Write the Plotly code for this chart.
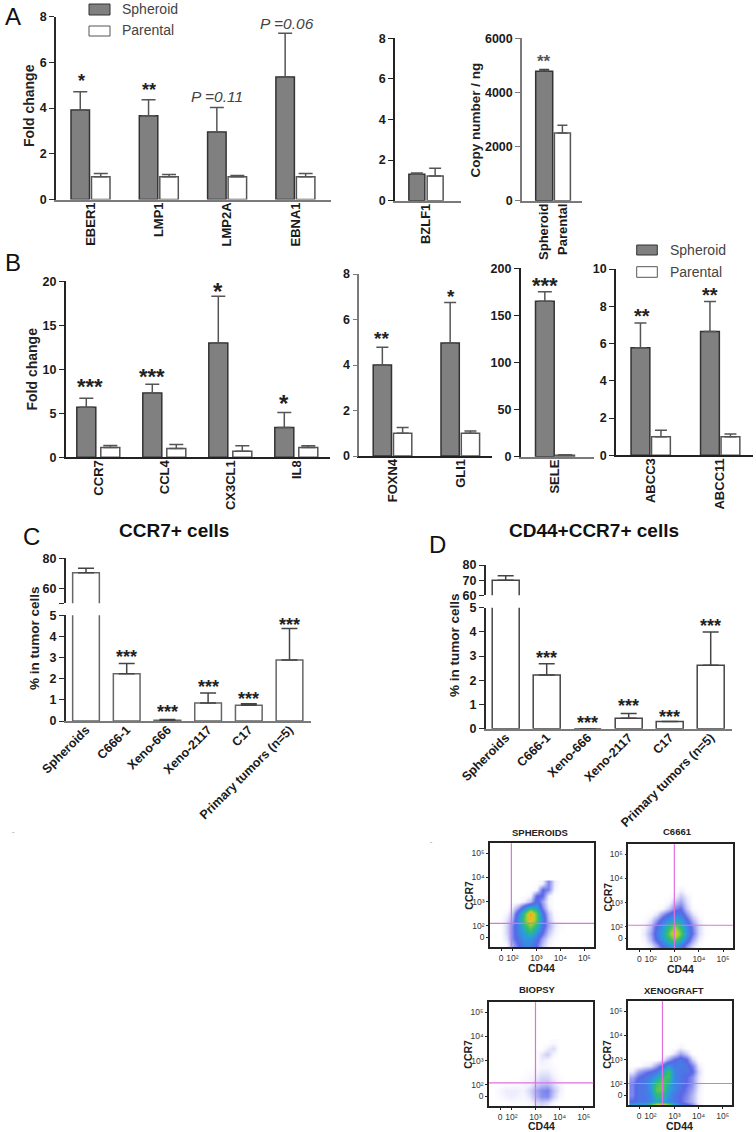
import plotly.graph_objects as go

W, H = 756, 1132
FONT = "Liberation Sans"

# ---------- data ----------
A1_cats = ["EBER1", "LMP1", "LMP2A", "EBNA1"]
A1_sph = [3.92, 3.67, 2.95, 5.36]
A1_sph_err = [0.80, 0.69, 1.08, 1.92]
A1_par = [1.0, 1.0, 1.0, 1.0]
A1_par_err = [0.14, 0.09, 0.05, 0.14]

A2_cats = ["BZLF1"]
A2_sph = [1.3]
A2_sph_err = [0.07]
A2_par = [1.22]
A2_par_err = [0.38]

A3_cats = ["Spheroid", "Parental"]
A3_val = [4780, 2500]
A3_err = [70, 290]

B1_cats = ["CCR7", "CCL4", "CX3CL1", "IL8"]
B1_sph = [5.7, 7.3, 13.0, 3.4]
B1_sph_err = [1.0, 1.0, 5.3, 1.7]
B1_par = [1.1, 1.0, 0.7, 1.1]
B1_par_err = [0.25, 0.45, 0.6, 0.2]

B2_cats = ["FOXN4", "GLI1"]
B2_sph = [4.0, 4.97]
B2_sph_err = [0.78, 1.78]
B2_par = [1.0, 1.0]
B2_par_err = [0.25, 0.1]

B3_cats = ["SELE"]
B3_sph = [165]
B3_sph_err = [10]
B3_par = [1.5]
B3_par_err = [0.5]

B4_cats = ["ABCC3", "ABCC11"]
B4_sph = [5.77, 6.65]
B4_sph_err = [1.33, 1.6]
B4_par = [1.0, 1.0]
B4_par_err = [0.35, 0.15]

CD_cats = ["Spheroids", "C666-1", "Xeno-666", "Xeno-2117", "C17", "Primary tumors (n=5)"]
C_val = [70.3, 2.23, 0.03, 0.85, 0.75, 2.88]
C_err = [3.0, 0.49, 0.04, 0.47, 0.07, 1.5]
D_val = [70.0, 2.22, 0.0, 0.43, 0.3, 2.62]
D_err = [2.9, 0.46, 0.0, 0.2, 0.0, 1.38]

FLOW_X = [1.25, 1.5, 1.75, 2.0, 2.25, 2.5, 2.75, 3.0, 3.25, 3.5, 3.75, 4.0, 4.25, 4.5]
FLOW_Y = [3.75, 3.5, 3.25, 3.0, 2.75, 2.5, 2.25, 2.0, 1.75, 1.5, 1.25, 1.12]
FLOW_Y_TICKS = [1.53, 2, 3, 4, 5]
FLOW_X_TICKS = [1.53, 2, 3, 4, 5]
FLOW_TICK_TEXT = ["0", "10²", "10³", "10⁴", "10⁵"]

spheroids_density = [
    [0, 0, 0, 0, 0, 0, 0, 0, 0.3, 2, 0.4, 0, 0, 0],
    [0, 0, 0, 0, 0, 0, 0, 0.2, 2.5, 2, 0.2, 0, 0, 0],
    [0, 0, 0, 0, 0, 0, 0.2, 2.5, 2.5, 0.4, 0, 0, 0, 0],
    [0, 0, 0, 0, 0, 0.4, 1.2, 3, 1.5, 0.2, 0, 0, 0, 0],
    [0, 0, 0, 0.4, 1.5, 3.5, 5, 4.5, 2, 0.4, 0, 0, 0, 0],
    [0, 0, 0.2, 1, 3.5, 6, 9.5, 6.5, 3, 1, 0.1, 0, 0, 0],
    [0, 0, 0.5, 1.5, 4, 6.5, 9, 6.5, 3.5, 1.2, 0.2, 0, 0, 0],
    [0, 0, 0.7, 2, 3.5, 5.5, 7, 5.5, 3, 1.5, 0.5, 0.1, 0, 0],
    [0, 0, 0.7, 2, 3.5, 4.5, 5.5, 4, 2.5, 1, 0.3, 0, 0, 0],
    [0, 0, 0.5, 2, 3, 4, 4, 3, 1.5, 0.5, 0.1, 0, 0, 0],
    [0, 0, 0.2, 1.5, 2.5, 3.5, 3.5, 2.5, 1, 0.3, 0, 0, 0, 0],
    [0, 0, 0.2, 1.5, 2.5, 3.5, 3.5, 2.5, 1, 0.3, 0, 0, 0, 0],
]
c6661_density = [
    [0, 0, 0, 0, 0, 0, 0, 0, 0, 0, 0, 0, 0, 0],
    [0, 0, 0, 0, 0, 0, 0, 0, 0.4, 0, 0, 0, 0, 0],
    [0, 0, 0, 0, 0, 0, 0, 0.3, 1, 0.4, 0, 0, 0, 0],
    [0, 0, 0, 0, 0, 0, 0.2, 1.1, 1.6, 0.6, 0, 0, 0, 0],
    [0, 0, 0, 0, 0, 0.2, 0.9, 2, 2.4, 0.9, 0.1, 0, 0, 0],
    [0, 0, 0, 0.1, 0.6, 1.8, 2.8, 3.5, 3.2, 1.8, 0.6, 0.1, 0, 0],
    [0, 0, 0.1, 0.6, 1.8, 3.2, 4, 5, 4.2, 2.8, 1.3, 0.4, 0, 0],
    [0, 0, 0.3, 1.1, 2.8, 4, 5.5, 7, 5.5, 3.6, 2, 0.7, 0.1, 0],
    [0, 0, 0.5, 1.5, 3.2, 4.5, 6.5, 9, 6.5, 4, 2.2, 0.7, 0.1, 0],
    [0, 0, 0.3, 1.2, 2.8, 4, 5.5, 6.5, 5, 3.2, 1.5, 0.4, 0, 0],
    [0, 0, 0.1, 0.5, 1.5, 2.8, 3.8, 4.2, 3.2, 1.8, 0.7, 0.1, 0, 0],
    [0, 0, 0.1, 0.5, 1.5, 2.8, 3.8, 4.2, 3.2, 1.8, 0.7, 0.1, 0, 0],
]
biopsy_density = [
    [0, 0, 0, 0, 0, 0, 0, 0, 0, 0, 0.15, 0, 0, 0],
    [0, 0, 0, 0, 0, 0, 0, 0, 0, 0.4, 0.7, 0, 0, 0],
    [0, 0, 0, 0, 0, 0, 0, 0, 0.5, 0.9, 0.2, 0, 0, 0],
    [0, 0, 0, 0, 0, 0, 0, 0, 0.4, 0.2, 0, 0, 0, 0],
    [0, 0, 0, 0, 0, 0, 0, 0.1, 0.2, 0.2, 0.1, 0, 0, 0],
    [0, 0, 0, 0, 0, 0, 0.1, 0.2, 0.5, 0.5, 0.2, 0, 0, 0],
    [0, 0, 0, 0, 0, 0.1, 0.2, 0.4, 0.8, 0.8, 0.4, 0.1, 0, 0],
    [0, 0, 0.1, 0.1, 0.1, 0.2, 0.3, 0.8, 1.1, 1.2, 0.7, 0.3, 0, 0],
    [0, 0.2, 0.4, 0.4, 0.4, 0.3, 0.7, 1.4, 1.9, 2.1, 1.1, 0.4, 0, 0],
    [0, 0.1, 0.3, 0.4, 0.3, 0.2, 0.5, 1.2, 1.8, 1.9, 0.9, 0.2, 0, 0],
    [0, 0, 0, 0.1, 0.1, 0.1, 0.2, 0.6, 0.9, 0.7, 0.2, 0, 0, 0],
    [0, 0, 0, 0, 0, 0, 0.1, 0.4, 0.6, 0.4, 0.1, 0, 0, 0],
]
xenograft_density = [
    [0, 0, 0, 0, 0, 0, 0, 0, 0, 0, 0, 0, 0, 0],
    [0, 0, 0, 0, 0, 0, 0, 0, 0.3, 0, 0, 0, 0, 0],
    [0, 0, 0, 0, 0, 0, 0, 0.6, 1.5, 0.8, 0, 0, 0, 0],
    [0, 0, 0, 0, 0, 0.3, 1.5, 2.5, 3, 2.5, 0.8, 0, 0, 0],
    [0, 0, 0.3, 0.5, 1.5, 2.5, 4, 3, 3.2, 3, 2, 0.4, 0, 0],
    [0.4, 1.5, 2, 2.5, 3, 4.5, 6, 3.5, 3, 3, 2.5, 0.7, 0, 0],
    [1.5, 2.5, 3, 3.5, 4.5, 6, 6, 3.5, 3, 2.5, 1.8, 0.5, 0, 0],
    [2, 3, 3, 4, 6, 6.5, 5, 3.5, 3, 2.5, 1.8, 0.5, 0, 0],
    [2, 3, 3, 4, 6.5, 6.5, 4.5, 3.5, 2.8, 2.2, 1.5, 0.4, 0, 0],
    [2, 3, 3, 3.5, 5.5, 5.5, 4, 3, 2.5, 2, 1.2, 0.3, 0, 0],
    [2.5, 3, 3, 3.5, 4.5, 4.5, 3.5, 3, 2.5, 1.8, 1.2, 0.3, 0, 0],
    [5, 5, 5, 6.5, 9.5, 10, 8, 5, 3.5, 3, 2, 0.5, 0, 0],
]

# ---------- style ----------
GREY = "#808080"
DARK = "#2a2a2a"
MID = "#7a7a7a"
DENSITY_SCALE = [[0, "#ffffff"], [0.03, "#f4f3fe"], [0.1, "#c4c6f6"], [0.25, "#5a66e8"],
                 [0.42, "#2a9ce0"], [0.58, "#2fc070"], [0.74, "#a8d030"], [0.88, "#f0c020"], [1, "#f07020"]]

fig = go.Figure()
layout = {}
annotations = []
shapes = []
ax_n = [0]


def xdom(l, r):
    return [l / W, r / W]


def ydom(t, b):
    return [1 - b / H, 1 - t / H]


def text(px, py, s, size, color="#222222", bold=False, angle=0, italic=False, anchor="center", pad=1):
    if bold:
        s = f"<b>{s}</b>"
    if italic:
        s = f"<i>{s}</i>"
    annotations.append(dict(x=px / W, y=1 - py / H, xref="paper", yref="paper", text=s, showarrow=False,
                            textangle=angle, xanchor=anchor, yanchor="middle", borderpad=pad,
                            font=dict(family=FONT, size=size, color=color)))


def bar_axes(cats, l, r, t, b, ymin, ymax, first, step, tickvals, ticktext=None, ycolor=DARK, xcolor=MID,
             show_x=True, tickangle=-90, catsize=13, standoff=-4):
    ax_n[0] += 1
    n = "" if ax_n[0] == 1 else str(ax_n[0])
    layout["xaxis" + n] = dict(
        domain=xdom(l, r), anchor="y" + n, type="category", categoryorder="array", categoryarray=cats,
        range=[(l - first) / step, (r - first) / step], showline=show_x, linecolor=xcolor, linewidth=1.5,
        ticks="", showticklabels=show_x, tickangle=tickangle, showgrid=False, zeroline=False, automargin=False,
        ticklabelstandoff=standoff,
        tickfont=dict(family=FONT, size=catsize, color="#1a1a1a", weight="bold"))
    layout["yaxis" + n] = dict(
        domain=ydom(t, b), anchor="x" + n, range=[ymin, ymax], tickmode="array", tickvals=tickvals,
        ticktext=ticktext if ticktext else [str(v) for v in tickvals], showline=True, linecolor=ycolor,
        linewidth=1.5, ticks="outside", ticklen=5, tickwidth=1, tickcolor=ycolor, showgrid=False, zeroline=False,
        automargin=False, tickfont=dict(family=FONT, size=12.5, color="#1a1a1a", weight="bold"))
    return "x" + n, "y" + n


def add_bars(xa, ya, cats, vals, errs, fill, line, errc, width, centre, capw, name):
    fig.add_trace(go.Bar(
        x=cats, y=vals, xaxis=xa, yaxis=ya, name=name, width=width, offset=centre - width / 2,
        marker=dict(color=fill, line=dict(color=line, width=1.5)), showlegend=False,
        error_y=dict(type="data", symmetric=False, array=errs, arrayminus=[0] * len(errs), color=errc,
                     thickness=1.5, width=capw)))


def grouped(cats, sph, sph_e, par, par_e, l, r, t, b, ymax, first, step, barw, sep, ticks, stars=(),
            ycolor=DARK, xcolor=MID, capw=6):
    xa, ya = bar_axes(cats, l, r, t, b, 0, ymax, first, step, ticks, ycolor=ycolor, xcolor=xcolor)
    w = barw / step
    c = sep / 2 / step
    add_bars(xa, ya, cats, sph, sph_e, GREY, "#333333", "#555555", w, -c, capw, "Spheroid")
    add_bars(xa, ya, cats, par, par_e, "white", "#555555", "#555555", w, c, capw, "Parental")
    for (i, yv, s, size, dx) in stars:
        annotations.append(dict(x=i - c, y=yv, xref=xa, yref=ya, text=f"<b>{s}</b>", showarrow=False, xshift=dx,
                                yshift=-0.2 * size, yanchor="middle",
                                font=dict(family=FONT, size=size, color="#222222")))
    return xa, ya


# ---------- panel A ----------
grouped(A1_cats, A1_sph, A1_sph_err, A1_par, A1_par_err, 56, 331, 16.7, 199.5, 8, 90.5, 68.3, 18.5, 20.5,
        [0, 2, 4, 6, 8], stars=[(0, 5.33, "*", 18, 1.5), (1, 4.94, "**", 18, 0)], capw=7)
annotations.append(dict(x=2 - 0.15, y=4.5, xref="x", yref="y", text="<i>P =0.11</i>", showarrow=False,
                        font=dict(family=FONT, size=15.5, color="#444444")))
annotations.append(dict(x=3 - 0.13, y=7.71, xref="x", yref="y", text="<i>P =0.06</i>", showarrow=False,
                        font=dict(family=FONT, size=15.5, color="#444444")))
grouped(A2_cats, A2_sph, A2_sph_err, A2_par, A2_par_err, 395, 460.7, 38.3, 200.7, 8, 426, 65.7, 16, 18.3,
        [0, 2, 4, 6, 8], ycolor="#222222", capw=6)
xa, ya = bar_axes(A3_cats, 522, 581.7, 38.3, 200.7, 0, 6000, 544.2, 18.2, [0, 2000, 4000, 6000], ycolor=MID)
add_bars(xa, ya, [A3_cats[0]], [A3_val[0]], [A3_err[0]], GREY, "#333333", "#444444", 17 / 18.2, 0, 5, "Spheroid")
add_bars(xa, ya, [A3_cats[1]], [A3_val[1]], [A3_err[1]], "white", "#555555", "#555555", 16 / 18.2, 0, 5, "Parental")
annotations.append(dict(x=0, y=5280, xref=xa, yref=ya, text="<b>**</b>", showarrow=False, yshift=-3.5,
                        font=dict(family=FONT, size=17, color="#555555")))

# ---------- panel B ----------
grouped(B1_cats, B1_sph, B1_sph_err, B1_par, B1_par_err, 65.7, 330, 281.3, 457.3, 20, 98.3, 66, 19, 24,
        [0, 5, 10, 15, 20], ycolor="#222222", xcolor="#222222", capw=7,
        stars=[(0, 8.56, "***", 22, 3.5), (1, 9.73, "***", 22, 0), (2, 19.4, "*", 24, 0), (3, 6.66, "*", 24, 0)])
grouped(B2_cats, B2_sph, B2_sph_err, B2_par, B2_par_err, 359.3, 491.7, 274, 456, 8, 392.5, 67.8, 18.3, 20.3,
        [0, 2, 4, 6, 8], ycolor=MID, xcolor="#222222",
        stars=[(0, 5.35, "**", 19, -0.5), (1, 7.18, "*", 19, 1)])
grouped(B3_cats, B3_sph, B3_sph_err, B3_par, B3_par_err, 520.7, 594, 268.3, 456.7, 200, 555, 73.3, 18.7, 20.3,
        [0, 50, 100, 150, 200], ycolor="#222222", capw=7, stars=[(0, 186, "***", 22, 0)])
grouped(B4_cats, B4_sph, B4_sph_err, B4_par, B4_par_err, 616, 752.7, 269, 455.3, 10, 650.7, 69.5, 18.8, 20.5,
        [0, 2, 4, 6, 8, 10], ycolor="#222222", xcolor="#222222",
        stars=[(0, 7.69, "**", 20, 1.5), (1, 8.82, "**", 20, 0)])


# ---------- panels C and D (broken axis) ----------
def broken(vals, errs, l, r, t_up, b_up, up_min, up_ticks, t_lo, b_lo, first, step, barw, stars, bar_line):
    w = barw / step
    xa, ya = bar_axes(CD_cats, l, r, t_up, b_up, up_min, 80, first, step, up_ticks[0], ticktext=up_ticks[1],
                      show_x=False)
    add_bars(xa, ya, CD_cats, vals, errs, "white", bar_line, "#444444", w, 0, 8, "Upper")
    xb, yb = bar_axes(CD_cats, l, r, t_lo, b_lo, 0, 5, first, step, [0, 1, 2, 3, 4, 5], tickangle=-45, catsize=12.5,
                      standoff=-5)
    add_bars(xb, yb, CD_cats, vals, errs, "white", bar_line, "#444444", w, 0, 8, "Lower")
    for i, yv in stars:
        annotations.append(dict(x=i, y=yv, xref=xb, yref=yb, text="<b>***</b>", showarrow=False, yshift=-3.6,
                                font=dict(family=FONT, size=18, color="#222222")))


broken(C_val, C_err, 65.7, 310.7, 558.3, 603.3, 50, ([50, 60, 80], ["", "60", "80"]), 615.3, 721, 86, 40.7, 26.7,
       [(1, 3.18), (2, 0.6), (3, 1.79), (4, 1.23), (5, 4.73)], "#666666")
broken(D_val, D_err, 485.7, 731.7, 565, 595.3, 60, ([60, 70, 80], ["60", "70", "80"]), 607.7, 728.7, 505.7, 41, 27,
       [(1, 3.07), (2, 0.40), (3, 1.10), (4, 0.62), (5, 4.38)], "#444444")


# ---------- flow panels ----------
def flow(z, l, r, t, b, vx, hy, title, tx, ty, cdx, cdy, crx, cry):
    ax_n[0] += 1
    n = str(ax_n[0])
    layout["xaxis" + n] = dict(domain=xdom(l, r), anchor="y" + n, range=[1.07, 5.4], tickmode="array",
                               tickvals=FLOW_X_TICKS, ticktext=FLOW_TICK_TEXT, ticks="outside", ticklen=2,
                               tickwidth=1, tickcolor="#222", showline=True, mirror=True, linecolor="#222",
                               linewidth=1.5, showgrid=False, zeroline=False, tickangle=0, automargin=False,
                               tickfont=dict(family=FONT, size=8.5, color="#333"))
    layout["yaxis" + n] = dict(domain=ydom(t, b), anchor="x" + n, range=[1.12, 5.41], tickmode="array",
                               tickvals=FLOW_Y_TICKS, ticktext=FLOW_TICK_TEXT, ticks="outside", ticklen=2,
                               tickwidth=1, tickcolor="#222", showline=True, mirror=True, linecolor="#222",
                               linewidth=1.5, showgrid=False, zeroline=False, automargin=False,
                               tickfont=dict(family=FONT, size=8.5, color="#333"))
    fig.add_trace(go.Heatmap(x=FLOW_X, y=FLOW_Y[::-1], z=z[::-1], xaxis="x" + n, yaxis="y" + n, zmin=0, zmax=10,
                             zsmooth="best", colorscale=DENSITY_SCALE, showscale=False, hoverinfo="skip"))
    shapes.append(dict(type="line", xref="x" + n, yref=f"y{n} domain", x0=vx, x1=vx, y0=0, y1=1,
                       line=dict(color="#e070e0", width=1.2)))
    shapes.append(dict(type="line", xref=f"x{n} domain", yref="y" + n, x0=0, x1=1, y0=hy, y1=hy,
                       line=dict(color="#e070e0", width=1.2)))
    text(tx, ty, title, 9.5, bold=True)
    text(cdx, cdy, "CD44", 10.5, bold=True, pad=0)
    text(crx, cry, "CCR7", 10.5, bold=True, angle=-90, pad=0)


flow(spheroids_density, 490, 594, 843.3, 947.3, 1.96, 2.11, "SPHEROIDS", 540, 832.7, 541.7, 968, 469, 895.7)
flow(c6661_density, 628.3, 732.7, 844.3, 948.3, 2.98, 2.07, "C6661", 677, 831.3, 680.3, 969, 607.7, 896.7)
flow(biopsy_density, 489, 593.3, 1002.3, 1106, 3.0, 2.08, "BIOPSY", 537, 989, 541, 1126, 467.7, 1054)
flow(xenograft_density, 628, 732.3, 1001.3, 1105, 2.5, 2.01, "XENOGRAFT", 674, 990, 679.7, 1126, 606.7, 1054)

# ---------- legends, labels ----------
for (x0, x1, t1, b1, t2, b2, tx, c1, c2) in [(89, 110, 4, 15, 26, 36, 120, 9.5, 30.5),
                                             (636.7, 657.3, 245, 255, 266.7, 277.3, 667.7, 250, 272)]:
    shapes.append(dict(type="rect", xref="paper", yref="paper", x0=x0 / W, x1=x1 / W, y0=1 - b1 / H, y1=1 - t1 / H,
                       fillcolor=GREY, line=dict(color="#333333", width=1)))
    shapes.append(dict(type="rect", xref="paper", yref="paper", x0=x0 / W, x1=x1 / W, y0=1 - b2 / H, y1=1 - t2 / H,
                       fillcolor="white", line=dict(color="#555555", width=1)))
    text(tx, c1, "Spheroid", 14, color="#444444", anchor="left")
    text(tx, c2, "Parental", 14, color="#444444", anchor="left")

for s, x, y in [("A", 12.5, 17), ("B", 12.5, 262), ("C", 31.5, 536), ("D", 437, 544)]:
    text(x, y, s, 24, color="#111111")

text(29, 106, "Fold change", 14, bold=True, angle=-90)
text(475.5, 120, "Copy number / ng", 13.5, bold=True, angle=-90)
text(31.5, 369, "Fold change", 14, bold=True, angle=-90)
text(34, 638, "% in tumor cells", 13.5, bold=True, angle=-90)
text(454, 645, "% in tumor cells", 13.5, bold=True, angle=-90)
text(173.7, 530, "CCR7+ cells", 19, color="#111111", bold=True)
text(593.7, 530, "CD44+CCR7+ cells", 19, color="#111111", bold=True)
text(13, 831, "-", 7, color="#888888")
text(431, 841, "-", 7, color="#888888")

fig.update_layout(width=W, height=H, margin=dict(l=0, r=0, t=0, b=0, autoexpand=False), autosize=False,
                  paper_bgcolor="white", plot_bgcolor="white", barmode="overlay", showlegend=False,
                  annotations=annotations, shapes=shapes, **layout)
fig.write_html("out.html", config={"displayModeBar": False}, post_script="document.body.style.margin='0';")
